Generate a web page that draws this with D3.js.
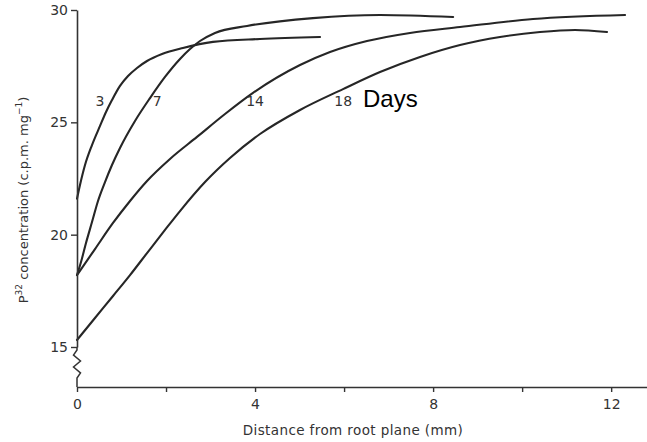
<!DOCTYPE html>
<html>
<head>
<meta charset="utf-8">
<script src="https://cdn.jsdelivr.net/npm/d3@7"></script>
<style>
  body { margin: 0; background: #fff; }
  svg { display: block; }
  .tick text { font-family: "DejaVu Sans", sans-serif; fill: #333; }
</style>
</head>
<body>
<div id="chart"></div>
<script>
// values: distance (mm) and P32 concentration (c.p.m. mg-1)
var days = ["3", "7", "14", "18"]

var dist3 = [0, 0.067, 0.18, 0.337, 0.517, 0.652, 0.786, 0.966, 1.146, 1.348, 1.573, 1.91, 2.38, 3.055, 4.11, 5.46]
var conc3 = [21.6, 22.21, 23.1, 23.99, 24.84, 25.46, 25.99, 26.62, 27.06, 27.42, 27.73, 28.04, 28.31, 28.58, 28.71, 28.8]

var dist7 = [0, 0.09, 0.202, 0.337, 0.472, 0.629, 0.786, 0.966, 1.303, 1.64, 1.977, 2.314, 2.539, 2.763, 3.1, 3.82, 5.3, 6.81, 8.45]
var conc7 = [18.2, 18.78, 19.63, 20.56, 21.5, 22.34, 23.1, 23.86, 25.06, 26.08, 27.02, 27.82, 28.26, 28.62, 28.98, 29.29, 29.64, 29.78, 29.69]

var dist14 = [0, 0.404, 0.809, 1.191, 1.573, 2.089, 2.696, 3.325, 3.954, 5.01, 5.684, 6.515, 7.481, 8.605, 10.245, 12.312]
var conc14 = [18.2, 19.36, 20.52, 21.5, 22.39, 23.37, 24.35, 25.37, 26.31, 27.55, 28.13, 28.62, 28.98, 29.24, 29.6, 29.78]

var dist18 = [0, 0.404, 0.809, 1.191, 1.573, 1.977, 2.314, 2.876, 3.437, 4.111, 5.01, 5.976, 6.807, 7.706, 8.605, 9.503, 10.402, 11.188, 11.907]
var conc18 = [15.31, 16.29, 17.27, 18.2, 19.18, 20.21, 21.05, 22.34, 23.41, 24.48, 25.55, 26.48, 27.24, 27.91, 28.44, 28.8, 29.02, 29.11, 29.02]

// where the day numbers sit
var labelDist = [0.517, 1.8, 4.0, 5.98]
var labelConc = [25.95, 25.95, 25.95, 25.95]

var yTicks = [15, 20, 25, 30]
var xTicks = [0, 2, 4, 6, 8, 10, 12]
var xLabelled = [0, 4, 8, 12]

var width = 647, height = 442

var svg = d3.select("#chart").append("svg")
    .attr("width", width)
    .attr("height", height)

svg.append("rect").attr("width", width).attr("height", height).attr("fill", "#fff")

var x = d3.scaleLinear().domain([0, 12.85]).range([77, 649])
var y = d3.scaleLinear().domain([15, 30]).range([347, 10])

var xAxisY = 387

var series = [
    dist3.map((d, i) => [d, conc3[i]]),
    dist7.map((d, i) => [d, conc7[i]]),
    dist14.map((d, i) => [d, conc14[i]]),
    dist18.map((d, i) => [d, conc18[i]])
]

var line = d3.line()
    .x(d => x(d[0]))
    .y(d => y(d[1]))
    .curve(d3.curveMonotoneX)

svg.append("g").selectAll("path")
    .data(series).enter()
    .append("path")
    .attr("d", d => line(d))
    .attr("fill", "none")
    .attr("stroke", "#262626")
    .attr("stroke-width", 2.1)
    .attr("stroke-linecap", "round")

/* axes */
var yAxis = svg.append("g")
    .attr("transform", `translate(${x(0)},0)`)
    .call(d3.axisLeft(y).tickValues(yTicks).tickSize(6).tickSizeOuter(0).tickPadding(3))
yAxis.select(".domain").attr("stroke", "#333").attr("stroke-width", 1.6)
yAxis.selectAll(".tick line").attr("stroke", "#333").attr("stroke-width", 1.4)
yAxis.selectAll(".tick text").style("font-size", "14px")

// axis break below 15
var y15 = y(15)
var brk = d3.line()([
    [x(0), y15], [x(0), y15 + 3], [x(0) - 3.5, y15 + 8], [x(0) + 3.5, y15 + 14],
    [x(0) - 3.5, y15 + 20], [x(0) + 3.5, y15 + 26], [x(0), y15 + 31], [x(0), xAxisY]
])
svg.append("path").attr("d", brk).attr("fill", "none")
    .attr("stroke", "#333").attr("stroke-width", 1.5)

var xAxis = svg.append("g")
    .attr("transform", `translate(0,${xAxisY})`)
    .call(d3.axisBottom(x).tickValues(xTicks).tickSize(5).tickSizeOuter(0).tickPadding(7)
        .tickFormat(d => xLabelled.indexOf(d) !== -1 ? d : ""))
xAxis.select(".domain").attr("stroke", "#333").attr("stroke-width", 1.6)
xAxis.selectAll(".tick line").attr("stroke", "#333").attr("stroke-width", 1.4)
xAxis.selectAll(".tick text").style("font-size", "14px")

svg.append("text")
    .attr("x", 353).attr("y", 435)
    .attr("text-anchor", "middle")
    .style("font-family", "DejaVu Sans, sans-serif")
    .style("font-size", "13.5px")
    .style("letter-spacing", "0.4px")
    .style("fill", "#333")
    .text("Distance from root plane (mm)")

var yTitle = svg.append("text")
    .attr("transform", "translate(28,200) rotate(-90)")
    .attr("text-anchor", "middle")
    .style("font-family", "DejaVu Sans, sans-serif")
    .style("font-size", "13px")
    .style("fill", "#333")
yTitle.append("tspan").text("P")
yTitle.append("tspan").attr("dy", -6).style("font-size", "9px").text("32")
yTitle.append("tspan").attr("dy", 6).text(" concentration (c.p.m. mg")
yTitle.append("tspan").attr("dy", -6).style("font-size", "9px").text("\u22121")
yTitle.append("tspan").attr("dy", 6).text(")")

/* day labels */
svg.append("g").selectAll("text")
    .data(days).enter()
    .append("text")
    .attr("x", (d, i) => x(labelDist[i]))
    .attr("y", (d, i) => y(labelConc[i]))
    .attr("text-anchor", "middle")
    .attr("dy", "0.36em")
    .style("font-family", "DejaVu Sans, sans-serif")
    .style("font-size", "14px")
    .style("fill", "#333")
    .text(d => d)

svg.append("text")
    .attr("x", 363).attr("y", 107)
    .style("font-family", "Liberation Sans, Arial, sans-serif")
    .style("font-size", "24px")
    .style("fill", "#000")
    .text("Days")
</script>
</body>
</html>
